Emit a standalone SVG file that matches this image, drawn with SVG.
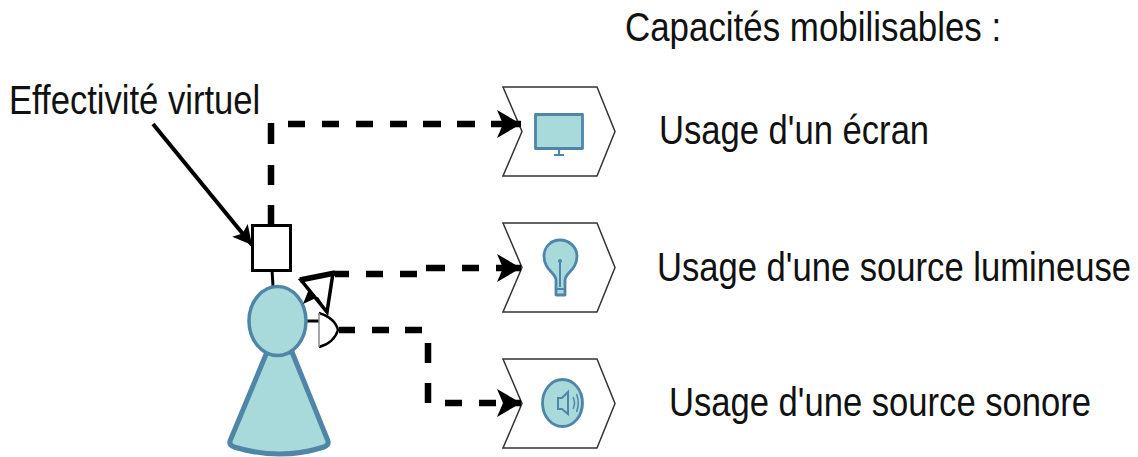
<svg xmlns="http://www.w3.org/2000/svg" width="1138" height="457" viewBox="0 0 1138 457">
<style>
text{font-family:"Liberation Sans",Arial,sans-serif;font-size:34.600px;fill:#111}
.cap{fill:#fff;stroke:#333;stroke-width:1.5}
.ico{fill:#a8dadc;stroke:#4f86a8;stroke-width:2.8;stroke-linejoin:round}
.dash{fill:none;stroke:#000;stroke-width:6.500}
.solid{fill:none;stroke:#000}
.thin{fill:none;stroke:#4f86a8;stroke-width:2}
</style>
<defs>
<marker id="ah" markerUnits="userSpaceOnUse" markerWidth="25" markerHeight="28" refX="24" refY="14" orient="auto"><path d="M0,0L24,14L0,28L6,14Z" fill="#000"/></marker>
<marker id="ah2" markerUnits="userSpaceOnUse" markerWidth="20" markerHeight="22" refX="19" refY="11" orient="auto"><path d="M0,1L19,11L0,21L4,11Z" fill="#000"/></marker>
</defs>
<rect width="1138" height="457" fill="#fff"/>
<g id="labels">
<text transform="translate(625,41) scale(1,1.16)" font-size="34.900" style="font-size:34.900px">Capacités mobilisables :</text>
<text transform="translate(9,114) scale(1,1.16)">Effectivité virtuel</text>
<text transform="translate(659,144) scale(1,1.16)">Usage d'un écran</text>
<text transform="translate(657,281) scale(1,1.16)">Usage d'une source lumineuse</text>
<text transform="translate(669,416) scale(1,1.16)">Usage d'une source sonore</text>
</g>
<g id="cap-screen">
<path class="cap" d="M503,87H597L615,131.500L597,176H503L522,131.500Z"/>
<rect class="ico" x="535.500" y="114.500" width="47" height="34"/>
<path d="M559,149V154M554,155H564" fill="none" stroke="#4f86a8" stroke-width="2.200"/>
</g>
<g id="cap-light">
<path class="cap" d="M503,223H597L615,267.500L597,312H503L522,267.500Z"/>
<path class="ico" d="M556,280C556,273 544,270 544,256C544,247 551,240 560,240C569,240 577,247 577,256C577,270 565,273 565,280V295H556Z"/>
<path class="thin" d="M560,261V287M556,289H565"/>
<circle cx="560" cy="261" r="2" fill="#4f86a8"/>
</g>
<g id="cap-sound">
<path class="cap" d="M503,359H597L615,403.500L597,448H503L522,403.500Z"/>
<ellipse class="ico" cx="562.500" cy="403" rx="20" ry="23.500"/>
<path class="thin" d="M558,398H562L568,392V414L562,409H558Z"/>
<path d="M573,397Q576,403 573,409M576.500,394Q580,403 576.500,412M580,392Q584,403 580,414" fill="none" stroke="#4f86a8" stroke-width="1.500"/>
</g>
<g id="connectors">
<path class="dash" d="M271,123V144M271,165V185M271,205V225M288,124H305M322,124H339M356,124H373M390,124H407M423,124H441M457,124H475"/>
<path class="dash" d="M491,124H521" marker-end="url(#ah)"/>
<path class="dash" d="M335,274H349M366,274H383M400,274H417M426,268H445M462,268H479"/>
<path class="dash" d="M496,268H521" marker-end="url(#ah)"/>
<path class="dash" d="M339,330H355M372,330H389M405,330H422M428,343V363M428,383V403M445,403H462M479,403H496"/>
<path class="dash" d="M505,403H521" marker-end="url(#ah)"/>
<path class="solid" stroke-width="4" d="M153,124L252,245" marker-end="url(#ah2)"/>
<path class="solid" stroke-width="3" d="M272,270L273,286"/>
<path class="solid" stroke-width="3" d="M307,321H320"/>
</g>
<g id="person">
<path d="M267,352L230,441Q229,445 234,447Q280,461 324,447Q329,445 328,441L292,352Z" fill="#a8dadc" stroke="#4f86a8" stroke-width="5" stroke-linejoin="round"/>
<ellipse cx="277.500" cy="321" rx="28.500" ry="34.500" fill="#a8dadc" stroke="#4f86a8" stroke-width="3.500"/>
</g>
<g id="role-box"><rect x="252.500" y="225.500" width="38" height="45" fill="#fff" stroke="#000" stroke-width="3"/></g>
<g id="eye">
<path d="M333,273L301,280L327,312Z" fill="#fff" stroke="#000" stroke-width="3.500"/>
<path d="M335,273L300,280" stroke="#000" stroke-width="5.500"/>
<path d="M303,304L309,289L327,311L318,297Z" fill="#000"/>
</g>
<g id="ear">
<path d="M319,313Q335,318 338,330Q334,343 319,347" fill="#fff" stroke="#000" stroke-width="2.500"/>
<path d="M319,313V347" stroke="#888" stroke-width="1.500"/>
</g>
</svg>
